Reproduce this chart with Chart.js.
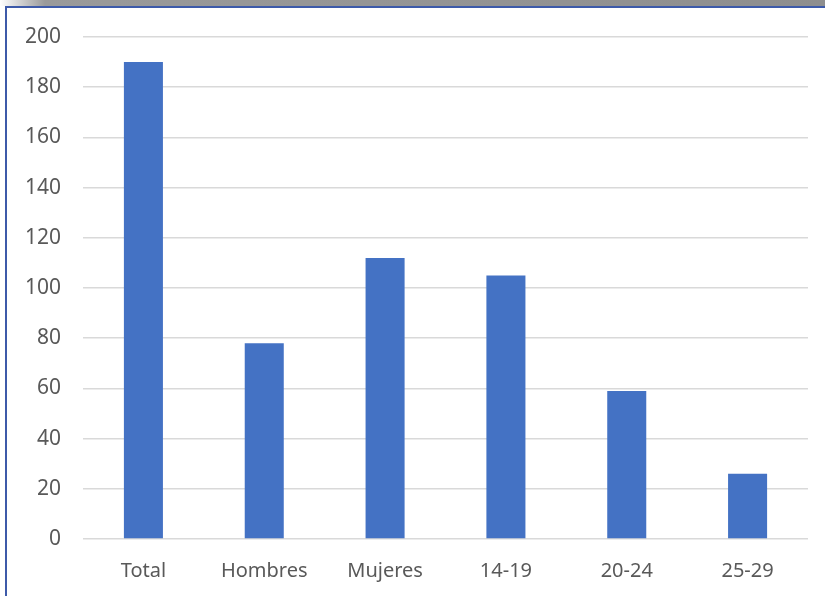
<!DOCTYPE html>
<html>
<head>
<meta charset="utf-8">
<script src="https://cdn.jsdelivr.net/npm/chart.js@4/dist/chart.umd.min.js"></script>
<style>
    html, body { margin: 0; padding: 0; background: #fff; }
    #wrapper { position: relative; width: 825px; height: 596px; overflow: hidden; }
    #grafico { position: absolute; left: 0; top: 0; }
    /* cornice in alto e a sinistra */
    .banda { position: absolute; left: 0; top: 0; width: 825px; height: 6px;
        background: linear-gradient(to right, #ffffff 0px, #9a9a9a 45px, #8e8e8e 100%); }
    .lineaTop { position: absolute; left: 5px; top: 6px; width: 820px; height: 2px; background: #3d5aa9; }
    .lineaSx { position: absolute; left: 5px; top: 6px; width: 2px; height: 590px; background: #3d5aa9; }
</style>
</head>
<body>
<div id="wrapper">
    <canvas id="grafico" width="825" height="596"></canvas>
    <div class="banda"></div>
    <div class="lineaTop"></div>
    <div class="lineaSx"></div>
</div>
<script>
"use strict";
// dati
const categorie = ["Total", "Hombres", "Mujeres", "14-19", "20-24", "25-29"];
const valori = [190, 78, 112, 105, 59, 26];
const tickY = [0, 20, 40, 60, 80, 100, 120, 140, 160, 180, 200];

window.onload = function() {
    let _canvas = document.getElementById("grafico");
    let font = { family: "'Noto Sans', 'Open Sans', sans-serif", size: 20 };

    let chart = new Chart(_canvas, {
        type: "bar",
        data: {
            labels: categorie,
            datasets: [{
                data: valori,
                backgroundColor: "#4472c4",
                borderWidth: 0,
                barPercentage: 0.323,
                categoryPercentage: 1
            }]
        },
        options: {
            responsive: false,
            animation: false,
            layout: { padding: { top: 37, right: 17, left: 0, bottom: 0 } },
            plugins: {
                legend: { display: false },
                tooltip: { enabled: false }
            },
            scales: {
                x: {
                    grid: { display: false },
                    border: { display: false },
                    ticks: { color: "#595959", font: font, padding: 12, maxRotation: 0 },
                    afterFit: function(s) { s.height = 57; }
                },
                y: {
                    min: 0,
                    max: 200,
                    afterBuildTicks: function(s) {
                        s.ticks = tickY.map(function(v) { return { value: v }; });
                    },
                    grid: { color: "#d9d9d9", lineWidth: 1.5, drawTicks: false },
                    border: { display: false },
                    ticks: { color: "#595959", font: { family: font.family, size: 21 }, padding: 22 },
                    afterFit: function(s) { s.width = 83; }
                }
            }
        }
    });
};
</script>
</body>
</html>
